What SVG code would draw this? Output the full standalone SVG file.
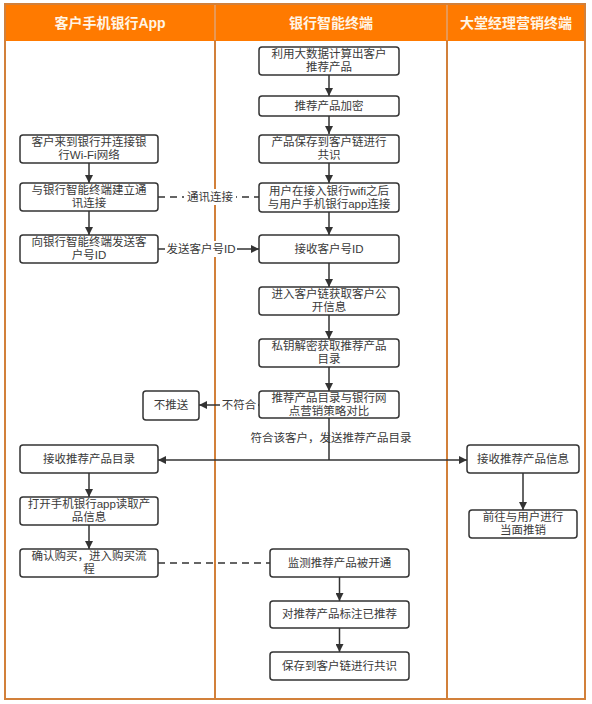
<svg xmlns="http://www.w3.org/2000/svg" width="592" height="704" viewBox="0 0 592 704">
<style>
.lane{fill:none;stroke:#d2803a;stroke-width:2}
.hdr{font-family:"Liberation Sans","Noto Sans CJK SC",sans-serif;font-size:14px;font-weight:bold;fill:#fff5e6;text-anchor:middle}
.box{fill:#fff;stroke:#333;stroke-width:1.5}
.t{font-family:"Liberation Sans","Noto Sans CJK SC",sans-serif;font-size:11.5px;fill:#3a3a3a;text-anchor:middle}
.c{fill:none;stroke:#333;stroke-width:1.5}
.d{fill:none;stroke:#333;stroke-width:1.5;stroke-dasharray:7 5}
.lb{fill:#fff}
</style>
<defs>
<marker id="ah" viewBox="0 0 10 10" refX="10" refY="5" markerWidth="8" markerHeight="8" markerUnits="userSpaceOnUse" orient="auto">
<path d="M0,0 L10,5 L0,10 z" fill="#333"/>
</marker>
</defs>
<rect x="0" y="0" width="592" height="704" fill="#fff"/>
<g id="lanes">
<rect x="5" y="4" width="580" height="37" fill="#ff7a00"/>
<rect x="5" y="4" width="580" height="695" class="lane"/>
<line x1="215" y1="4" x2="215" y2="699" class="lane"/>
<line x1="447" y1="4" x2="447" y2="699" class="lane"/>
<line x1="215" y1="5" x2="215" y2="40" stroke="#ffb070" stroke-width="1"/>
<line x1="447" y1="5" x2="447" y2="40" stroke="#ffb070" stroke-width="1"/>
<text x="110" y="28" class="hdr">客户手机银行App</text>
<text x="331" y="28" class="hdr">银行智能终端</text>
<text x="516" y="28" class="hdr">大堂经理营销终端</text>
</g>
<g id="connectors">
<path d="M329,75 V96" class="c" marker-end="url(#ah)"/>
<path d="M329,116 V134" class="c" marker-end="url(#ah)"/>
<path d="M329,163 V183" class="c" marker-end="url(#ah)"/>
<path d="M329,212 V235" class="c" marker-end="url(#ah)"/>
<path d="M329,263 V287" class="c" marker-end="url(#ah)"/>
<path d="M329,315 V339" class="c" marker-end="url(#ah)"/>
<path d="M329,367 V391" class="c" marker-end="url(#ah)"/>
<path d="M259,405 H199" class="c" marker-end="url(#ah)"/>
<rect x="220" y="397" width="38" height="16" class="lb"/>
<text x="239" y="409" class="t">不符合</text>
<path d="M329,418 V460" class="c"/>
<path d="M329,460 H158" class="c" marker-end="url(#ah)"/>
<path d="M329,460 H467" class="c" marker-end="url(#ah)"/>
<text x="331" y="442" class="t">符合该客户，发送推荐产品目录</text>
<path d="M89,163 V183" class="c" marker-end="url(#ah)"/>
<path d="M89,211 V235" class="c" marker-end="url(#ah)"/>
<path d="M89,473 V497" class="c" marker-end="url(#ah)"/>
<path d="M89,525 V549" class="c" marker-end="url(#ah)"/>
<path d="M158,197 H259" class="d"/>
<rect x="184" y="189" width="52" height="16" class="lb"/>
<text x="210" y="201" class="t">通讯连接</text>
<path d="M158,249 H259" class="c" marker-end="url(#ah)"/>
<rect x="165" y="241" width="72" height="16" class="lb"/>
<text x="201" y="253" class="t">发送客户号ID</text>
<path d="M158,563 H270" class="d"/>
<path d="M339.5,577 V601" class="c" marker-end="url(#ah)"/>
<path d="M339.5,628 V652" class="c" marker-end="url(#ah)"/>
<path d="M523,473 V510" class="c" marker-end="url(#ah)"/>
</g>
<g id="n1"><rect x="259" y="47" width="140" height="28" rx="3" class="box"/><text x="329" y="58" class="t">利用大数据计算出客户</text><text x="329" y="71" class="t">推荐产品</text></g>
<g id="n2"><rect x="259" y="96" width="140" height="20" rx="3" class="box"/><text x="329" y="110" class="t">推荐产品加密</text></g>
<g id="n3"><rect x="259" y="135" width="140" height="28" rx="3" class="box"/><text x="329" y="146" class="t">产品保存到客户链进行</text><text x="329" y="159" class="t">共识</text></g>
<g id="n4"><rect x="259" y="183" width="140" height="29" rx="3" class="box"/><text x="329" y="195" class="t">用户在接入银行wifi之后</text><text x="329" y="208" class="t">与用户手机银行app连接</text></g>
<g id="n5"><rect x="259" y="235" width="140" height="28" rx="3" class="box"/><text x="329" y="253" class="t">接收客户号ID</text></g>
<g id="n6"><rect x="259" y="287" width="140" height="28" rx="3" class="box"/><text x="329" y="298" class="t">进入客户链获取客户公</text><text x="329" y="311" class="t">开信息</text></g>
<g id="n7"><rect x="259" y="339" width="140" height="28" rx="3" class="box"/><text x="329" y="350" class="t">私钥解密获取推荐产品</text><text x="329" y="363" class="t">目录</text></g>
<g id="n8"><rect x="259" y="391" width="140" height="27" rx="3" class="box"/><text x="329" y="402" class="t">推荐产品目录与银行网</text><text x="329" y="415" class="t">点营销策略对比</text></g>
<g id="nopush"><rect x="143" y="391" width="56" height="29" rx="3" class="box"/><text x="171" y="409" class="t">不推送</text></g>
<g id="l1"><rect x="20" y="135" width="138" height="28" rx="3" class="box"/><text x="89" y="146" class="t">客户来到银行并连接银</text><text x="89" y="159" class="t">行Wi-Fi网络</text></g>
<g id="l2"><rect x="20" y="183" width="138" height="28" rx="3" class="box"/><text x="89" y="194" class="t">与银行智能终端建立通</text><text x="89" y="207" class="t">讯连接</text></g>
<g id="l3"><rect x="20" y="235" width="138" height="28" rx="3" class="box"/><text x="89" y="246" class="t">向银行智能终端发送客</text><text x="89" y="259" class="t">户号ID</text></g>
<g id="l4"><rect x="20" y="445" width="138" height="28" rx="3" class="box"/><text x="89" y="463" class="t">接收推荐产品目录</text></g>
<g id="l5"><rect x="20" y="497" width="138" height="28" rx="3" class="box"/><text x="89" y="508" class="t">打开手机银行app读取产</text><text x="89" y="521" class="t">品信息</text></g>
<g id="l6"><rect x="20" y="549" width="138" height="28" rx="3" class="box"/><text x="89" y="560" class="t">确认购买，进入购买流</text><text x="89" y="573" class="t">程</text></g>
<g id="m1"><rect x="270" y="549" width="139" height="28" rx="3" class="box"/><text x="339.5" y="567" class="t">监测推荐产品被开通</text></g>
<g id="m2"><rect x="270" y="601" width="139" height="27" rx="3" class="box"/><text x="339.5" y="618" class="t">对推荐产品标注已推荐</text></g>
<g id="m3"><rect x="270" y="652" width="139" height="28" rx="3" class="box"/><text x="339.5" y="670" class="t">保存到客户链进行共识</text></g>
<g id="r1"><rect x="467" y="445" width="112" height="28" rx="3" class="box"/><text x="523" y="463" class="t">接收推荐产品信息</text></g>
<g id="r2"><rect x="469" y="510" width="108" height="28" rx="3" class="box"/><text x="523" y="521" class="t">前往与用户进行</text><text x="523" y="534" class="t">当面推销</text></g>
</svg>
